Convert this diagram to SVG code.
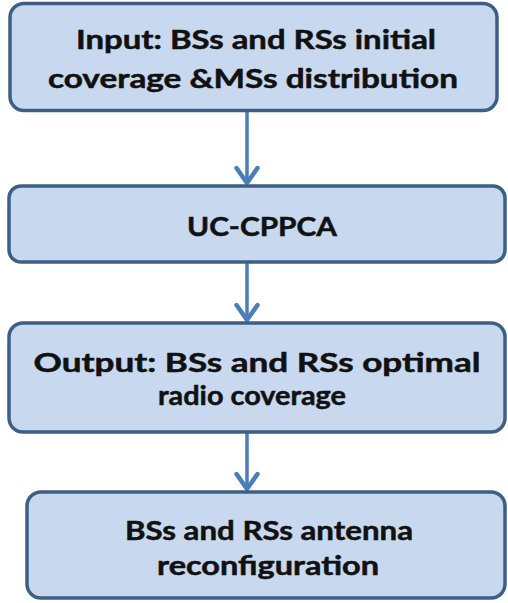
<svg xmlns="http://www.w3.org/2000/svg" width="508" height="603" viewBox="0 0 508 603">
  <style>
    .box { fill: #c8d8ee; stroke: #3e5f84; stroke-width: 3.5; }
    .lbl { font-family: Lato, "Open Sans", "Liberation Sans", sans-serif; font-weight: 700; font-size: 26.5px; fill: #111111; stroke: #111111; stroke-width: 0.5; text-anchor: middle; }
    .link { stroke: #4a7dba; stroke-width: 3.5; fill: none; }
    .head { stroke: #4a7dba; stroke-width: 4.5; fill: none; stroke-linecap: round; stroke-linejoin: round; }
  </style>
  <rect width="508" height="603" fill="#ffffff"/>

  <g id="connectors">
    <line class="link" x1="247" y1="111" x2="247" y2="184"/>
    <polyline class="head" points="236.5,168 247,183 257.5,168"/>
    <line class="link" x1="247" y1="263" x2="247" y2="321"/>
    <polyline class="head" points="236.5,305 247,320 257.5,305"/>
    <line class="link" x1="247" y1="433" x2="247" y2="490"/>
    <polyline class="head" points="236.5,474 247,489 257.5,474"/>
  </g>

  <g id="input">
    <rect class="box" x="10" y="3.5" width="487" height="107" rx="14"/>
    <text class="lbl" x="256" y="49" textLength="360" lengthAdjust="spacingAndGlyphs">Input: BSs and RSs initial</text>
    <text class="lbl" x="253" y="88" textLength="410" lengthAdjust="spacingAndGlyphs">coverage &amp;MSs distribution</text>
  </g>

  <g id="uc-cppca">
    <rect class="box" x="9" y="186" width="496" height="76" rx="12"/>
    <text class="lbl" x="262" y="236" textLength="150" lengthAdjust="spacingAndGlyphs">UC-CPPCA</text>
  </g>

  <g id="output">
    <rect class="box" x="9" y="323" width="496" height="109" rx="14"/>
    <text class="lbl" x="257" y="372" textLength="447" lengthAdjust="spacingAndGlyphs">Output: BSs and RSs optimal</text>
    <text class="lbl" x="252" y="405" textLength="188" lengthAdjust="spacingAndGlyphs">radio coverage</text>
  </g>

  <g id="reconfiguration">
    <rect class="box" x="27" y="492" width="478" height="106" rx="14"/>
    <text class="lbl" x="269" y="540" textLength="288" lengthAdjust="spacingAndGlyphs">BSs and RSs antenna</text>
    <text class="lbl" x="268" y="575" textLength="222" lengthAdjust="spacingAndGlyphs">reconfiguration</text>
  </g>
</svg>
